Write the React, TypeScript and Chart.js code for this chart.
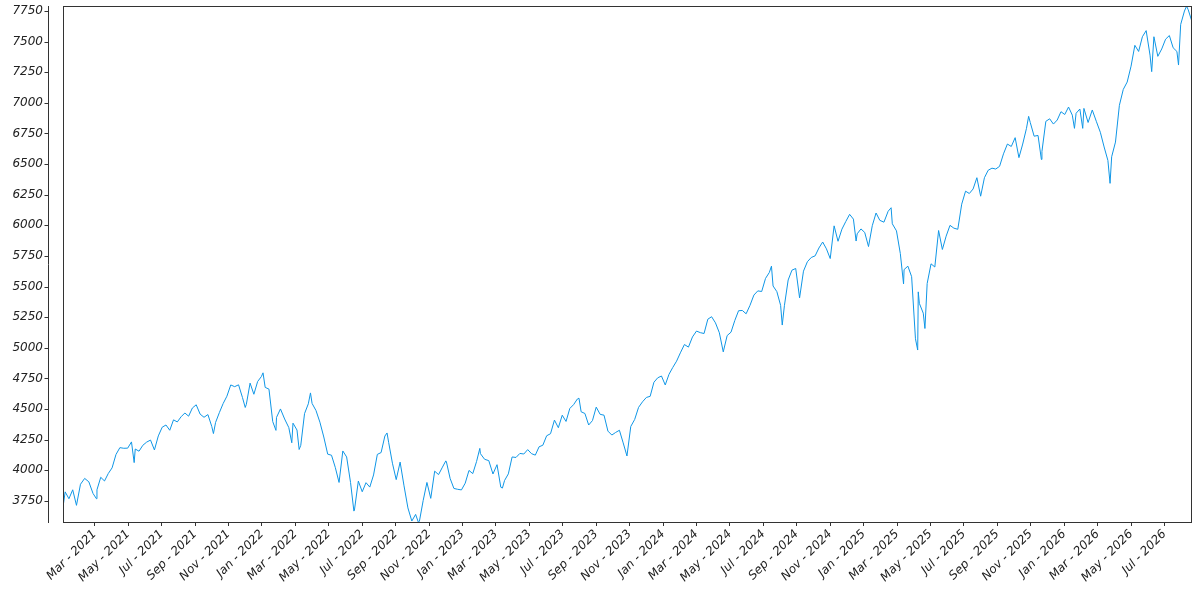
import { useEffect, useRef } from "react";
import { Chart, registerables } from "chart.js";

Chart.register(...registerables);

// weekly closes (Fridays), first Friday 2021-01-08
const close2021 = [
  3824, 3768, 3841, 3714, 3886, 3934, 3906, 3811, 3841, 3943, 3913, 3974, 4020,
  4129, 4185, 4180, 4181, 4232, 4174, 4156, 4204, 4230, 4247, 4166, 4281, 4352,
  4370, 4327, 4412, 4395, 4437, 4468, 4442, 4509, 4535, 4459, 4433, 4455, 4357,
  4391, 4471, 4545, 4605, 4697, 4683, 4698, 4595, 4538, 4712, 4621, 4725, 4766,
];
const close2022 = [
  4677, 4663, 4398, 4432, 4501, 4419, 4349, 4385, 4329, 4204, 4463, 4543, 4546,
  4488, 4393, 4272, 4132, 4123, 4024, 3901, 4158, 4109, 3901, 3675, 3912, 3825,
  3899, 3863, 3962, 4130, 4145, 4280, 4228, 4058, 3924, 4067, 3873, 3693, 3586,
  3640, 3583, 3753, 3901, 3771, 3993, 3965, 4026, 4072, 3934, 3852, 3845, 3840,
];
const close2023 = [
  3895, 3999, 3973, 4071, 4136, 4090, 4079, 3970, 4046, 3862, 3917, 3971, 4109,
  4105, 4138, 4133, 4169, 4136, 4124, 4192, 4205, 4282, 4299, 4410, 4348, 4450,
  4399, 4505, 4536, 4582, 4478, 4464, 4370, 4406, 4516, 4457, 4450, 4320, 4288,
  4309, 4327, 4224, 4117, 4358, 4415, 4514, 4559, 4595, 4604, 4719, 4755, 4770,
];
const close2024 = [
  4697, 4784, 4840, 4891, 4959, 5027, 5006, 5089, 5137, 5124, 5117, 5234, 5254,
  5204, 5123, 4967, 5100, 5128, 5223, 5303, 5305, 5278, 5347, 5431, 5465, 5460,
  5567, 5615, 5505, 5459, 5347, 5344, 5554, 5634, 5648, 5408, 5626, 5703, 5738,
  5751, 5815, 5864, 5808, 5729, 5996, 5870, 5969, 6032, 6090, 6051, 5931, 5971,
];
const close2025 = [
  5942, 5827, 5997, 6101, 6041, 6026, 6115, 6013, 5955, 5770, 5639, 5667, 5581,
  5074, 5363, 5283, 5525, 5686, 5660, 5958, 5803, 5912, 6000, 5977, 5968, 6173,
  6279, 6260, 6297, 6389, 6238, 6389, 6450, 6467, 6460, 6482, 6584, 6664, 6644,
  6716, 6553, 6664, 6792, 6840, 6728, 6734, 6603, 6849, 6870, 6827, 6860, 6928,
];
const close2026 = [
  6905, 6966, 6900, 6915, 6950, 6955, 6840, 6942, 6846, 6760, 6640, 6530, 6560,
  6680, 6980, 7110, 7170, 7300, 7470, 7420, 7540, 7590, 7390, 7540, 7380, 7440,
  7520, 7550, 7450, 7420, 7640, 7750, 7760, 7663,
];

// daily extremes between the weekly closes
const spikeDates = [
  "2021-01-04", "2021-03-04", "2021-05-12", "2021-10-04", "2021-12-01",
  "2022-01-03", "2022-01-27", "2022-02-23", "2022-03-08", "2022-03-29",
  "2022-06-16", "2022-08-16", "2022-10-12", "2022-12-01", "2023-02-02",
  "2023-03-13", "2023-07-31", "2024-07-16", "2024-08-05", "2024-12-18",
  "2025-02-19", "2025-03-13", "2025-04-08", "2025-04-09", "2025-04-21",
  "2025-10-28", "2025-11-20", "2026-01-20", "2026-02-04", "2026-03-24",
  "2026-06-08", "2026-07-27", "2026-08-11",
];
const spikeValues = [
  3700, 3768, 4063, 4300, 4513,
  4796, 4326, 4225, 4170, 4632,
  3667, 4305, 3577, 4077, 4179,
  3855, 4589, 5667, 5186, 5872,
  6144, 5522, 4982, 5457, 5158,
  6890, 6538, 6792, 6792, 6343,
  7255, 7309, 7790,
];

const yTicks = [3750, 4000, 4250, 4500, 4750, 5000, 5250, 5500, 5750, 6000, 6250, 6500, 6750, 7000, 7250, 7500, 7750];
const monthNames = ["Jan", "Feb", "Mar", "Apr", "May", "Jun", "Jul", "Aug", "Sep", "Oct", "Nov", "Dec"];

const FONT = { family: "'DejaVu Sans', sans-serif", size: 12, style: "italic" as const };
const AXIS_COLOR = "#333333";

// months since Jan 2021, fractional
const toMonths = (d: Date) => {
  const y = d.getUTCFullYear();
  const m = d.getUTCMonth();
  const dim = new Date(Date.UTC(y, m + 1, 0)).getUTCDate();
  return (y - 2021) * 12 + m + (d.getUTCDate() - 1) / dim;
};

const buildPoints = () => {
  const weekly = [...close2021, ...close2022, ...close2023, ...close2024, ...close2025, ...close2026];
  const pts = weekly.map((v, i) => ({ x: toMonths(new Date(Date.UTC(2021, 0, 8 + 7 * i))), y: v }));
  spikeDates.forEach((s, i) => {
    const [y, m, d] = s.split("-").map(Number);
    pts.push({ x: toMonths(new Date(Date.UTC(y, m - 1, d))), y: spikeValues[i] });
  });
  return pts.sort((a, b) => a.x - b.x);
};

// box around the plot and the detached y axis line
const framePlugin = {
  id: "frame",
  afterDraw(chart: any) {
    const { ctx, chartArea } = chart;
    const { left, right, top, bottom } = chartArea;
    const yScale = chart.scales.y;
    ctx.save();
    ctx.strokeStyle = AXIS_COLOR;
    ctx.lineWidth = 1;
    ctx.strokeRect(Math.round(left) + 0.5, Math.round(top) + 0.5, Math.round(right - left) - 1, Math.round(bottom - top));
    const ax = 48.5;
    ctx.beginPath();
    ctx.moveTo(ax, Math.round(top));
    ctx.lineTo(ax, Math.round(bottom) + 1);
    yTicks.forEach((v) => {
      const py = Math.round(yScale.getPixelForValue(v)) + 0.5;
      ctx.moveTo(ax - 4, py);
      ctx.lineTo(ax, py);
    });
    ctx.stroke();
    ctx.restore();
  },
};

export default function App() {
  const chartRef = useRef<HTMLCanvasElement>(null);
  const chartInstance = useRef<Chart | null>(null);

  useEffect(() => {
    if (!chartRef.current) return;
    if (chartInstance.current) chartInstance.current.destroy();

    const points = buildPoints();
    const ctx = chartRef.current.getContext("2d");
    if (!ctx) return;

    chartInstance.current = new Chart(ctx, {
      type: "line",
      data: {
        datasets: [
          {
            data: points,
            borderColor: "#0f96e6",
            borderWidth: 1,
            pointRadius: 0,
            tension: 0,
            fill: false,
          },
        ],
      },
      options: {
        animation: false,
        responsive: true,
        maintainAspectRatio: false,
        layout: { padding: { top: 6, right: 8, left: 0, bottom: 0 } },
        plugins: { legend: { display: false }, tooltip: { enabled: false } },
        scales: {
          x: {
            type: "linear",
            min: points[0].x,
            max: points[points.length - 1].x,
            border: { display: false },
            grid: { drawOnChartArea: false, drawTicks: true, tickLength: 4, color: AXIS_COLOR },
            ticks: {
              autoSkip: false,
              maxRotation: 45,
              minRotation: 45,
              padding: 1,
              color: "#222",
              font: FONT,
              callback: (v: any) => `${monthNames[Number(v) % 12]} - ${2021 + Math.floor(Number(v) / 12)}`,
            },
            afterBuildTicks: (scale: any) => {
              const t = [];
              for (let m = 2; m <= scale.max; m += 2) t.push({ value: m });
              scale.ticks = t;
            },
            afterFit: (scale: any) => {
              scale.height = 78;
              scale.paddingLeft = 0;
              scale.paddingRight = 0;
            },
          },
          y: {
            type: "linear",
            min: 3578,
            max: 7791,
            border: { display: false },
            grid: { display: false, drawTicks: false },
            ticks: { padding: 20, color: "#222", font: FONT, callback: (v: any) => String(v) },
            afterBuildTicks: (scale: any) => {
              scale.ticks = yTicks.map((v) => ({ value: v }));
            },
            afterFit: (scale: any) => {
              scale.width = 63;
              scale.paddingTop = 0;
              scale.paddingBottom = 0;
            },
          },
        },
      },
      plugins: [framePlugin],
    });

    return () => {
      if (chartInstance.current) {
        chartInstance.current.destroy();
        chartInstance.current = null;
      }
    };
  }, []);

  return (
    <div style={{ position: "fixed", left: 0, top: 0, width: "1200px", height: "600px", background: "#fff" }}>
      <canvas ref={chartRef} />
    </div>
  );
}
